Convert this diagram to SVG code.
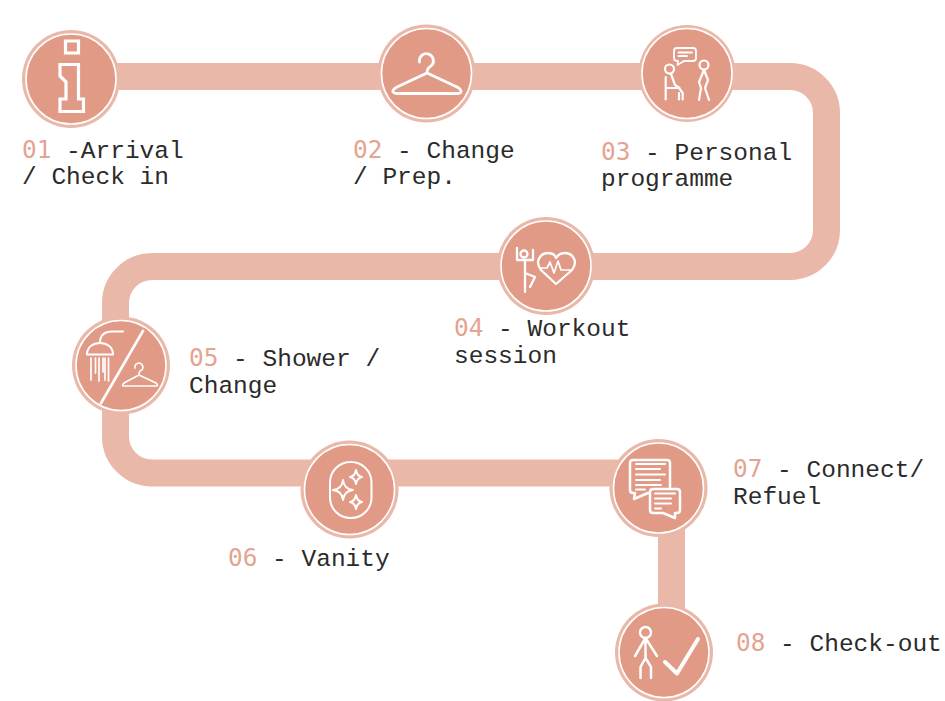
<svg xmlns="http://www.w3.org/2000/svg" width="945" height="701" viewBox="0 0 945 701">
<style>
text{font-family:"Liberation Mono","DejaVu Sans Mono",monospace;font-size:24.5px;fill:#2b2b2b}
.n{fill:#e5a391;font-family:"DejaVu Sans Mono","Liberation Mono",monospace;font-size:24.4px}
.band{fill:none;stroke:#eab8a9;stroke-width:27}
.halo{fill:#eab8a9}
.disc{fill:#e19a86;stroke:#fff;stroke-width:1.6}
.i{fill:none;stroke:#fff;stroke-width:2.500;stroke-linecap:round;stroke-linejoin:round}
.f{fill:#e19a86}
</style>
<rect width="945" height="701" fill="#fff"/>
<g id="connectors">
<path class="band" d="M71,76.500H790A36.500,36.500 0 0 1 826.500,113V230A36.500,36.500 0 0 1 790,266.500H152A36.500,36.500 0 0 0 115.500,303V436.500A36.500,36.500 0 0 0 152,473H671.500V650"/>
</g>
<g id="node-01">
<circle class="halo" cx="71" cy="79" r="49"/><circle class="disc" cx="71" cy="79" r="45"/>
<path class="i" style="stroke-width:3.200;stroke-linecap:butt;stroke-linejoin:miter" d="M65.500,41H78.500V53H65.500ZM60,64.500H78.500V99H83.500V111.500H60V99H66V82L60,76Z"/>
<text x="22" y="158"><tspan class="n">01</tspan> -Arrival</text><text x="22" y="184">/ Check in</text>
</g>
<g id="node-02">
<circle class="halo" cx="426.500" cy="73.500" r="49"/><circle class="disc" cx="426.500" cy="73.500" r="45"/>
<path class="i" style="stroke-width:2.800" d="M419.500,62A7,7 0 1 1 431,66Q427,68 427,73L397,87Q392,90 393,92Q394,93.500 397,93.500H457Q461,93.500 461,91.500Q461,89 457,87L427,73"/>
<text x="353" y="158"><tspan class="n">02</tspan> - Change</text><text x="353" y="184">/ Prep.</text>
</g>
<g id="node-03">
<circle class="halo" cx="687" cy="73.500" r="48.500"/><circle class="disc" cx="687" cy="73.500" r="45"/>
<path class="i" style="stroke-width:1.800" d="M677,48H693Q696,48 696,51V58Q696,61 693,61H684L677.500,65L678,61Q674,61 674,58V51Q674,48 677,48ZM678.500,52.500H692M678.500,56H687"/>
<g class="i" style="stroke-width:2.200"><circle cx="669.500" cy="69" r="4.500"/><circle cx="704" cy="65" r="4.500"/>
<path d="M665.700,77V99.500M665.700,88H679L682.700,93V99.500M671,74L675,85L679.500,88M679,93V99.500"/>
<path d="M704,70L699,82L701,88L699,100M704,70L708,80L705,88L709,100"/></g>
<text x="601" y="160"><tspan class="n">03</tspan> - Personal</text><text x="601" y="186">programme</text>
</g>
<g id="node-04">
<circle class="halo" cx="546" cy="266" r="49"/><circle class="disc" cx="546" cy="266" r="45"/>
<g class="i" style="stroke-width:2.300"><circle cx="524" cy="254" r="3.500"/>
<path d="M517,248V260H533V250M525,260V292M525,273L535,277L530,287"/>
<path d="M556,284L541,270C534,261 541,253 548,253C552,253 555,255 556,258C558,255 561,253 565,253C572,253 579,261 572,270Z"/>
<path d="M540,268H547L550,262L554,273L558,261L561,270H571" style="stroke-width:1.700"/></g>
<text x="454" y="336"><tspan class="n">04</tspan> - Workout</text><text x="454" y="363">session</text>
</g>
<g id="node-05">
<circle class="halo" cx="121" cy="365.500" r="49"/><circle class="disc" cx="121" cy="365.500" r="45"/>
<path d="M143.500,330L100.500,404" stroke="#fff" stroke-width="2.600"/>
<g class="i" style="stroke-width:2"><path d="M123,331.500H112Q100,331.500 100,343"/>
<path d="M87,354.500C87,339 113,339 113,354.500Z"/>
<path d="M91,358V380M95.500,358V373M99,358V381M103,358V372M105,358V380M108.500,358V381" style="stroke-width:1.700"/>
<path d="M135,368A4,4 0 1 1 140,371Q139,372 139,375L124,383Q121,386 124,386H156Q159,386 156,383L139,375" style="stroke-width:1.700"/></g>
<text x="189" y="366"><tspan class="n">05</tspan> - Shower /</text><text x="189" y="393">Change</text>
</g>
<g id="node-06">
<circle class="halo" cx="349.500" cy="489.500" r="49"/><circle class="disc" cx="349.500" cy="489.500" r="45"/>
<g class="i" style="stroke-width:2"><rect x="330" y="462" width="41.500" height="56" rx="20.500"/>
<path d="M343,480Q344,489 353,490Q344,491 343,500Q342,491 333,490Q342,489 343,480Z"/>
<path d="M356,470Q357,476 362,477Q357,478 356,484Q355,478 350,477Q355,476 356,470Z"/>
<path d="M356,495Q357,501 362,502Q357,503 356,509Q355,503 350,502Q355,501 356,495Z"/></g>
<text x="228" y="566"><tspan class="n">06</tspan> - Vanity</text>
</g>
<g id="node-07">
<circle class="halo" cx="658.500" cy="488" r="49"/><circle class="disc" cx="658.500" cy="488" r="45"/>
<g class="i"><path d="M633,460H667Q670,460 670,463V490Q670,493 667,493H648L634,499L635,493H633Q630,493 630,490V463Q630,460 633,460Z"/>
<path d="M636,464H665M636,469H660M636,474.500H665M636,480H660M636,485H661M636,489.500H645" style="stroke-width:2"/>
<path class="f" d="M653,489H677Q680,489 680,492V510Q680,513 677,513H675L675,518L663,513H653Q650,513 650,510V492Q650,489 653,489Z"/>
<path d="M655,493.500H675M655,498.500H671M655,503.500H671M655,508.500H661" style="stroke-width:2"/></g>
<text x="733" y="477"><tspan class="n">07</tspan> - Connect/</text><text x="733" y="504">Refuel</text>
</g>
<g id="node-08">
<circle class="halo" cx="664" cy="652.500" r="49"/><circle class="disc" cx="664" cy="652.500" r="45"/>
<g class="i"><circle cx="645.500" cy="632.500" r="5.500"/>
<path d="M645.500,638L635,656M645.500,638L657,656M645.500,638V658L640.500,667V678M645.500,658L651,667V678"/>
<path d="M665,662L677,673.500L698,639" style="stroke-width:4"/></g>
<text x="736" y="651"><tspan class="n">08</tspan> - Check-out</text>
</g>
</svg>
